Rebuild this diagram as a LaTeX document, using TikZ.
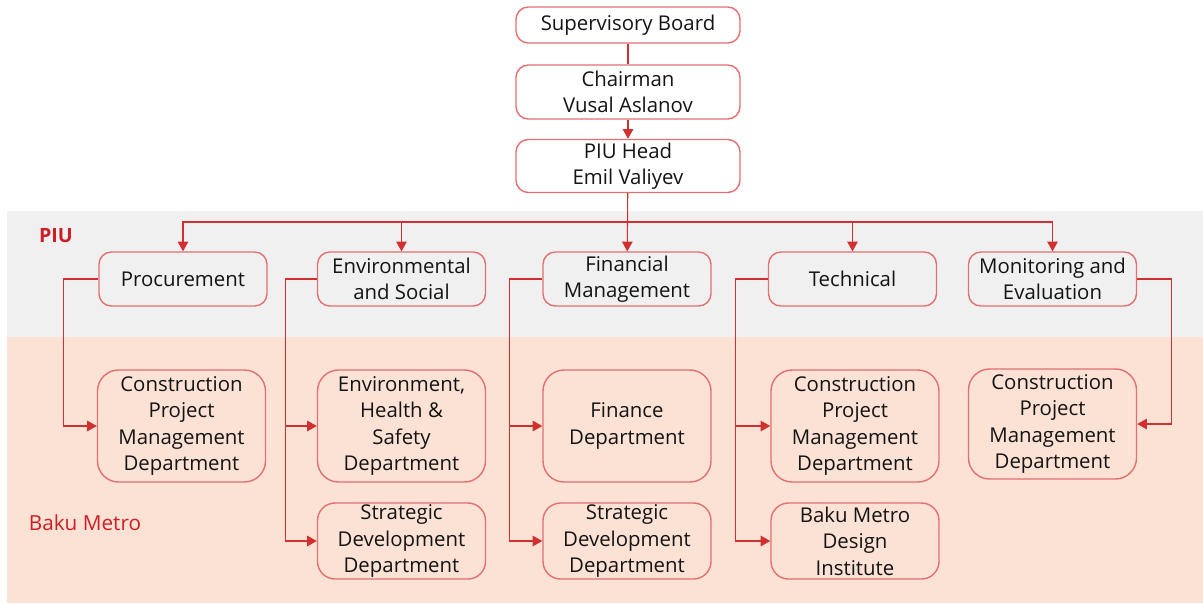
\documentclass[tikz,border=0pt]{standalone}
\usepackage{fontspec}
\setmainfont{Open Sans}
\definecolor{bandgray}{RGB}{240,240,240}
\definecolor{bandpeach}{RGB}{251,226,213}
\definecolor{boxred}{RGB}{226,112,112}
\definecolor{linered}{RGB}{208,48,48}
\definecolor{labelred}{RGB}{205,30,40}
\usetikzlibrary{arrows.meta}

\begin{document}
\begin{tikzpicture}[x=0.02cm, y=-0.02cm,
    font=\fontsize{11.6}{15.1}\selectfont,
    unit/.style={draw=boxred, line width=0.8pt, rounded corners=7pt,
      align=center, inner sep=0pt, text=black!92},
    conn/.style={draw=linered, line width=0.6pt,
      -{Triangle[width=6pt,length=5.5pt]}},
    plain/.style={draw=linered, line width=0.6pt}]
  \useasboundingbox (0,0) rectangle (1203,603);
  % organisation bands
  \fill[bandgray] (7,211) rectangle (1203,337);
  \fill[bandpeach] (7,337) rectangle (1203,603);
  \node[font=\fontsize{11.2}{13}\selectfont\bfseries, text=labelred] (piulbl) at (56,236) {PIU};
  \node[font=\fontsize{11.8}{13}\selectfont, text=labelred] (bmlbl) at (85,523) {Baku Metro};

  % top of the chain
  \node[unit, minimum width=224*0.02cm, minimum height=36*0.02cm] (sup) at (628,25) {Supervisory Board};
  \node[unit, minimum width=224*0.02cm, minimum height=54*0.02cm] (chair) at (628,92) {Chairman\\Vusal Aslanov};
  \node[unit, minimum width=224*0.02cm, minimum height=53*0.02cm] (head) at (628,166) {PIU Head\\Emil Valiyev};

  % PIU units
  \tikzset{piu/.style={unit, minimum width=168*0.02cm, minimum height=54*0.02cm}}
  \node[piu] (proc) at (183,279) {Procurement};
  \node[piu] (env) at (401.5,279) {Environmental\\and Social};
  \node[piu] (fin) at (627,279) {Financial\\Management};
  \node[piu] (tech) at (852.5,279) {Technical};
  \node[piu] (me) at (1052.5,279) {Monitoring and\\Evaluation};

  % Baku Metro departments
  \tikzset{dept/.style={unit, minimum width=168*0.02cm, minimum height=112*0.02cm, rounded corners=12pt},
    dept3/.style={unit, minimum width=168*0.02cm, minimum height=76*0.02cm, rounded corners=10pt}}
  \node[dept] (cpm1) at (181.5,426) {Construction\\Project\\Management\\Department};
  \node[dept] (ehs) at (401.5,426) {Environment,\\Health \&\\Safety\\Department};
  \node[dept] (finance) at (627,426) {Finance\\Department};
  \node[dept] (cpm2) at (855,426) {Construction\\Project\\Management\\Department};
  \node[dept, minimum height=110*0.02cm] (cpm3) at (1052.5,424) {Construction\\Project\\Management\\Department};
  \node[dept3] (strat1) at (401.5,541) {Strategic\\Development\\Department};
  \node[dept3] (strat2) at (627,541) {Strategic\\Development\\Department};
  \node[dept3] (bmdi) at (855,541) {Baku Metro\\Design\\Institute};

  % reporting lines
  \draw[plain] (sup) -- (chair);
  \draw[conn] (chair) -- (head);
  \draw[conn] (head) -- (fin);
  \coordinate (bus) at (628,222);
  \draw[conn] (bus) -| (proc.north);
  \draw[conn] (bus) -| (env.north);
  \draw[conn] (bus) -| (tech.north);
  \draw[conn] (bus) -| (me.north);

  \draw[conn] (proc.west) -- ++(-35,0) |- (cpm1.west);
  \draw[conn] (env.west) -- ++(-31,0) coordinate (envdrop) |- (ehs.west);
  \draw[conn] (envdrop) |- (strat1.west);
  \draw[conn] (fin.west) -- ++(-33,0) coordinate (findrop) |- (finance.west);
  \draw[conn] (findrop) |- (strat2.west);
  \draw[conn] (tech.west) -- ++(-32,0) coordinate (techdrop) |- (cpm2.west);
  \draw[conn] (techdrop) |- (bmdi.west);
  \draw[conn] (me.east) -- ++(34,0) |- (cpm3.east);
\end{tikzpicture}
\end{document}
